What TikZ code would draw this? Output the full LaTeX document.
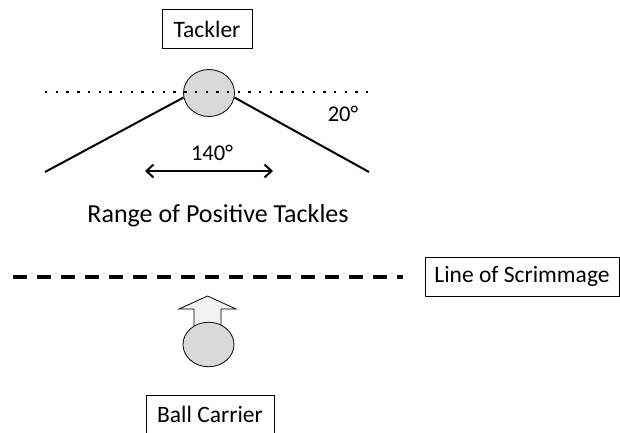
\documentclass[tikz,border=0pt]{standalone}
\usepackage{fontspec}
\setmainfont{Carlito}
\usetikzlibrary{shapes.geometric,arrows.meta}

\tikzset{
    labelbox/.style={draw, line width=0.8pt, inner sep=0pt, minimum height=39pt},
    player/.style={ellipse, draw, line width=0.8pt, fill=black!15, inner sep=0pt},
    tackleline/.style={line width=2pt},
}

\begin{document}
\begin{tikzpicture}[x=1pt,y=-1pt]

    % Fix the frame
    \useasboundingbox (0,0) rectangle (620,432);

    % Tackler label and ball
    \node[labelbox, minimum width=90pt, font=\fontsize{23.5}{26}\selectfont] (tacklerbox) at (207,29) {Tackler};
    \node[player, minimum width=51pt, minimum height=47pt] (tackler) at (209,93) {};

    % Dotted reference line through the tackler
    \coordinate (dotL) at (45,92);
    \coordinate (dotR) at (368,92);
    \draw[line width=2.4pt, dash pattern=on 2.4pt off 8.3pt] (dotL) -- (dotR);

    % The two limit lines
    \coordinate (limL) at (45,172);
    \coordinate (limR) at (369,172);
    \draw[tackleline] (limL) -- (tackler.190);
    \draw[tackleline] (tackler.-10) -- (limR);

    % Angle values
    \node[font=\fontsize{22.5}{25}\selectfont] (angsmall) at (343,114) {20°};
    \node[font=\fontsize{22.5}{25}\selectfont] (angbig) at (212,153) {140°};

    % Double arrow for the range
    \coordinate (rngL) at (145,171);
    \coordinate (rngR) at (273,171);
    \draw[tackleline, {Straight Barb[length=7pt,width=13pt]}-{Straight Barb[length=7pt,width=13pt]}] (rngL) -- (rngR);

    % Caption of the range
    \node[anchor=base, font=\fontsize{26}{29}\selectfont] (range) at (218,222) {Range of Positive Tackles};

    % Line of scrimmage
    \coordinate (scrimL) at (13,277);
    \coordinate (scrimR) at (403,277);
    \draw[line width=4pt, dash pattern=on 14pt off 10pt] (scrimL) -- (scrimR);
    \node[labelbox, minimum width=194pt, font=\fontsize{23.5}{26}\selectfont] (scrimbox) at (522,276.5) {Line of Scrimmage};

    % Ball carrier with its running arrow
    \draw[line width=0.8pt, fill=black!5] (207.5,296) -- (236,309) -- (221,309) -- (221,326)
        -- (194,326) -- (194,309) -- (179,309) -- cycle;
    \node[player, minimum width=51pt, minimum height=44.5pt] (carrier) at (208.5,344.5) {};

    % Ball carrier label
    \node[labelbox, minimum width=128pt, font=\fontsize{23.5}{26}\selectfont] (carrierbox) at (210,414.5) {Ball Carrier};

\end{tikzpicture}
\end{document}
